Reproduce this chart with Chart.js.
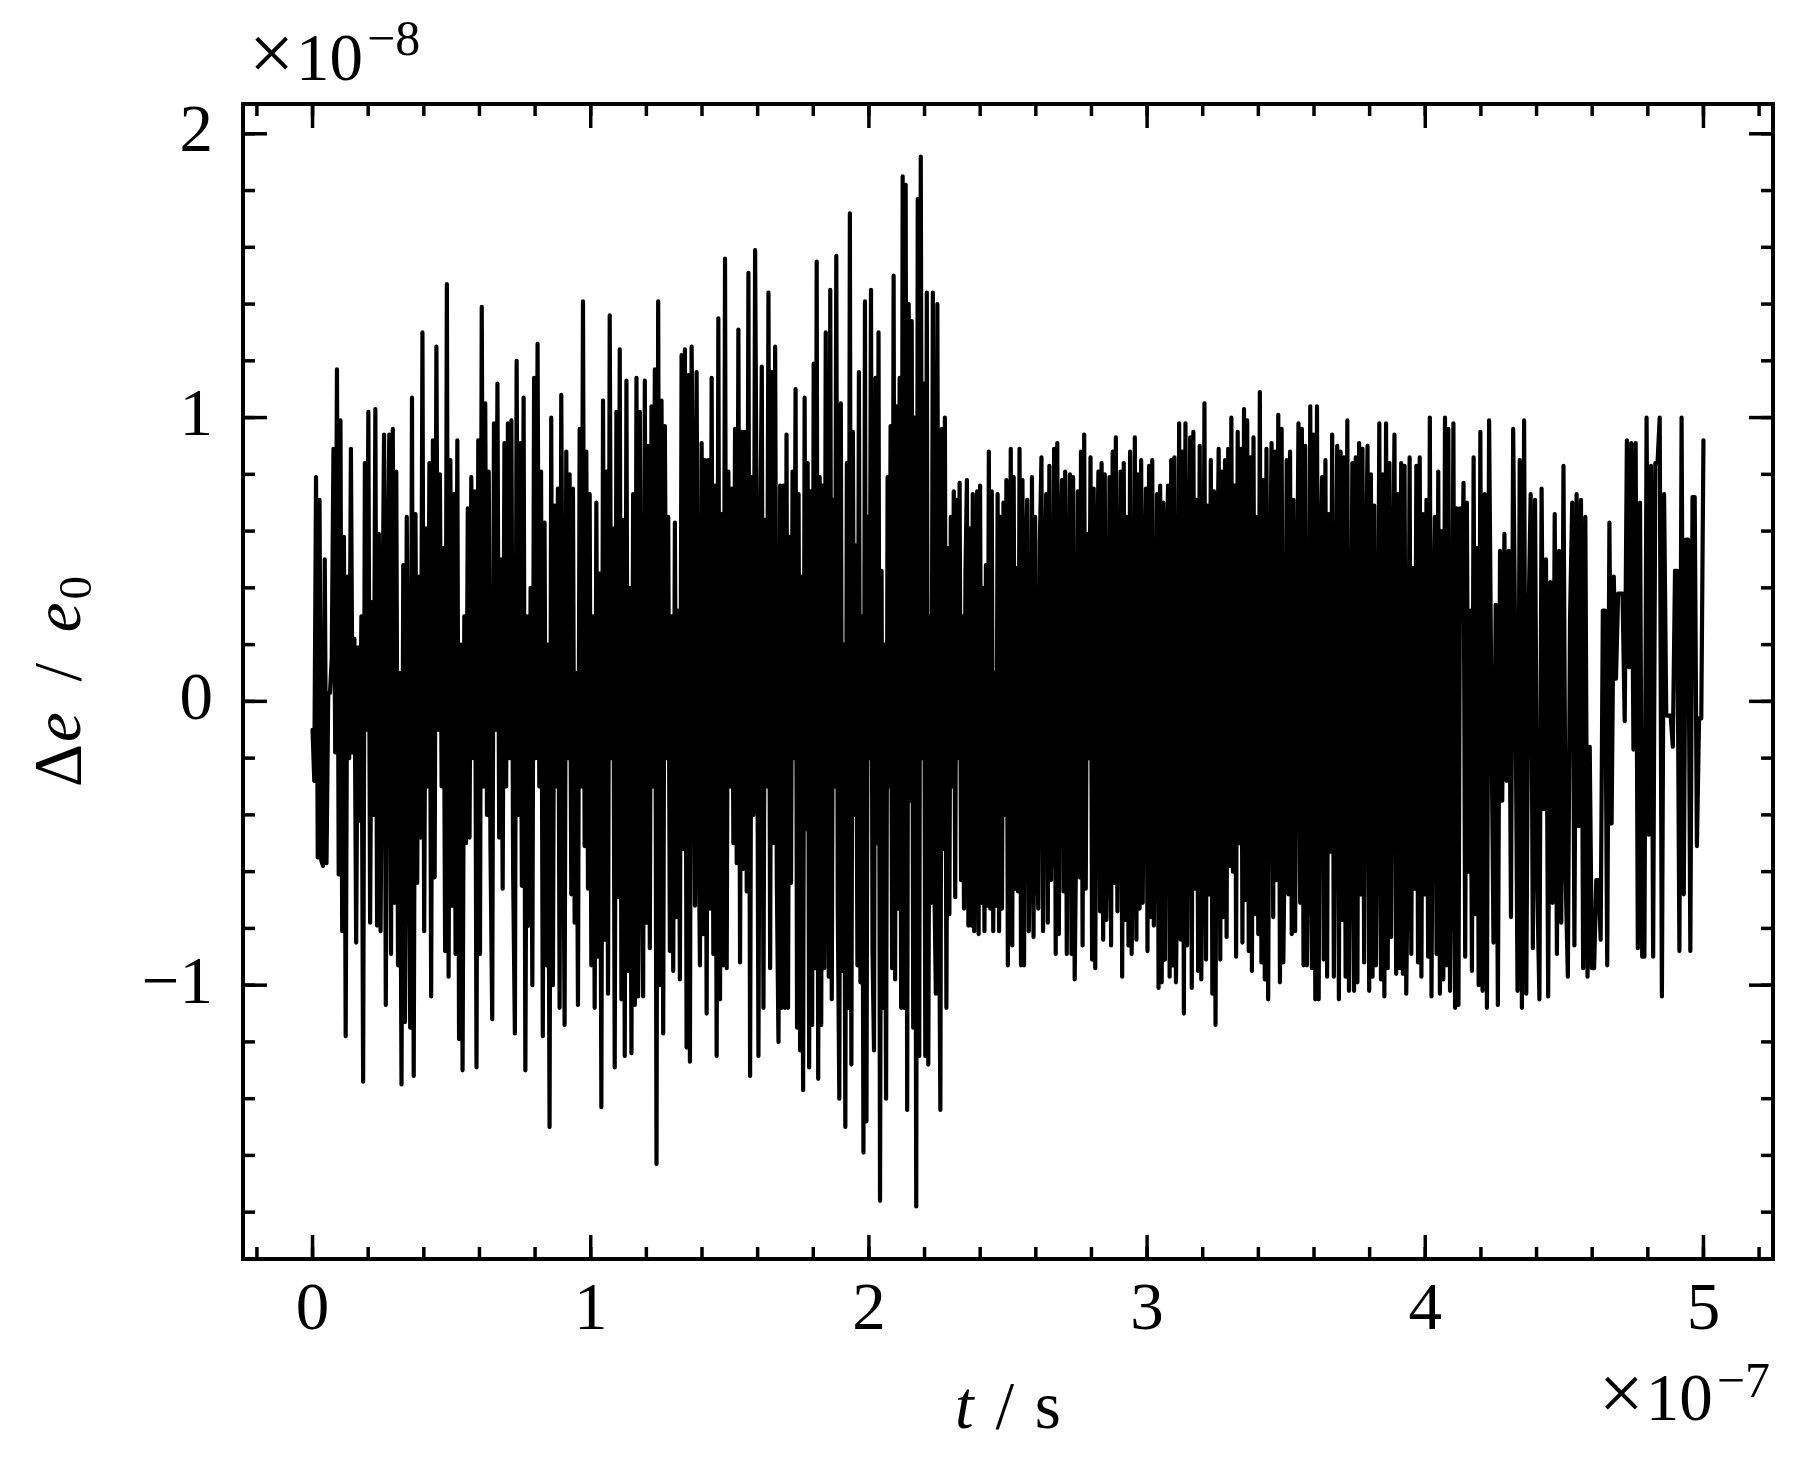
<!DOCTYPE html>
<html>
<head>
<meta charset="utf-8">
<script src="https://cdn.jsdelivr.net/npm/chart.js@4.4.1/dist/chart.umd.min.js"></script>
<style>
  html, body { margin: 0; padding: 0; background: #fff; }
  canvas { display: block; }
</style>
</head>
<body>
<canvas id="myChart" width="1808" height="1477"></canvas>
<script>
// time axis in units of 1e-7 s, energy error in units of 1e-8
const xTicks = [0, 1, 2, 3, 4, 5]
const yTicks = [-1, 0, 1, 2]
const xRange = [-0.25, 5.25]
const yRange = [-1.965, 2.105]
const minorStep = 0.2

// segment boundaries (samples spread evenly inside each one)
const segTimes = [0, 0.834, 1.693, 2.284, 2.552, 3.411, 4.198, 5.0]

const segA = [-0.10, -0.28, 0.79, -0.55, 0.71, -0.56, -0.58, 0.50, -0.57, 0.03, 0.03, 0.15, 0.89, -0.18, 1.17, -0.61, 0.99, -0.81, 0.58, -1.18, 0.44, -0.20, 0.89, -0.18, 0.22, -0.85, 0.19, -0.42, 0.30, -1.34, 0.84, -0.10, 1.02, -0.78, 0.35, -0.40, 1.03, -0.79, 0.59, -0.81, 0.20, 0.94, -1.07, 0.45, 0.94, -0.89, 0.96, -0.71, 0.81, -0.93, 0.10, -1.35, 0.48, -1.13, 0.65, -0.20, -1.15, 1.07, -1.32, 0.66, -0.64, 0.44, -0.48, 1.30, -0.81, 0.61, -0.30, 0.84, -1.04, 0.92, -0.62, 1.25, -0.10, 0.80, -0.30, 0.54, -0.88, 1.47, -0.97, 0.85, -0.72, 0.73, -0.89, 0.92, -1.19, 0.20, -1.30, 0.30, -0.50, 0.68, -0.48, 0.79, -0.20, 0.74, -1.29, 0.92, -0.89, 1.39, -0.30, 1.05, -0.40, 0.81, -0.51, -1.12, 0.98, -0.10, 1.12, -0.48, 0.50, -0.66, 0.91, -0.30, 0.98, -0.20, 0.99, -0.61, -1.17, 1.20, -0.40, 0.91, -0.65, 1.07, -1.30, 0.30, -0.79, 0.40, -1.00, 1.14, -0.20, 1.26, -0.30, 0.81, -1.18]

const segB = [0.63, -0.93, 0.20, -1.50, 1.00, -1.00, 0.69, -0.30, 0.75, -1.08, 1.08, -0.06, -1.14, 0.88, -0.20, 0.80, -0.68, 0.75, -0.78, 0.10, -1.07, 0.96, -0.30, 1.41, -0.51, 0.88, -0.66, 0.73, -0.93, 0.30, -1.08, 0.70, -0.90, 0.45, -1.43, 1.06, -0.84, 0.81, -1.03, 1.36, -0.20, 0.61, -1.29, 1.02, -0.69, 1.24, -1.05, 0.64, -1.25, 1.13, -0.95, 0.40, -1.24, 0.73, -1.07, 1.14, -1.04, 1.02, -0.37, -1.04, 1.13, -0.78, 0.90, -0.87, 1.04, -0.30, 1.17, -1.63, 1.41, -1.00, 1.06, -1.17, 0.97, -0.20, 0.65, -0.88, 0.30, -0.95, 0.63, -0.76, 0.32, -0.98, 1.22, -0.52, 1.24, -1.22, 1.15, -1.27, 1.25, 0.58, -0.72, 1.16, -0.32, -0.93, 0.91, -0.82, 0.85, -1.10, 0.85, -0.73, 1.14, -0.89, 0.76, -1.25, 1.35, -1.05, 0.66, -0.93, 1.56, -0.94, 0.81, -0.30, 0.75, -0.50, 0.96, -0.57, 1.31, -0.92, 0.95, -0.59, 0.95, -0.67, 1.51, -1.32, 0.79, -0.40, 1.59, 0.55, -1.25, 0.49, 1.18, -1.08, 0.64, -0.30, 1.44, -0.94, 1.16, -0.50, 1.25, -0.63, -1.20, 0.76, -1.08]

const segC = [0.76, -1.08, 0.94, -1.08, 0.58, -0.64, 0.81, -0.20, 1.10, -1.15, 0.73, -1.23, 0.44, -1.37, 1.07, -0.45, 0.84, -1.29, 0.74, -1.14, 1.19, -0.94, 1.55, -1.33, 0.79, -1.14, 0.76, -0.94, 1.30, -0.28, -0.97, 1.45, -1.05, 0.71, -0.30, 1.57, -0.74, -1.40, 1.05, -0.95, 0.20, -1.50, 0.84, -1.08, 1.72, -1.28, 0.95, -0.40, 0.55, -0.93, 1.16, -0.99, 0.30, -1.59, 1.41, -1.48, 0.65, -0.20, 1.45, -0.88, -1.23, 1.14, -0.50, 1.30, -1.76, 0.46, -1.08, 0.20, -1.40, 0.79, -0.30, 0.97, -0.94, 1.50, -0.98, 1.04, -0.73, 1.14, -1.08, 1.85, -1.08, 1.82, -1.44, 1.40, -0.35, 1.34, -1.15, 1.00, -1.78, 1.77, -1.25, 1.92, -0.20, 1.12, -1.25, 1.44, -1.28, 0.30, -0.71, 1.44, -0.63, -1.03, 1.40, -0.57, -1.44, 0.96, -0.52, 1.00, -1.08]

const segD = [0.54, -0.75, 0.65, -0.30, 0.74, -0.69, 0.71, -0.20, 0.77, -0.63, 0.30, -0.73, 0.45, 0.78, -0.79, 0.61, -0.79, 0.73, -0.81, 0.20, 0.74, -0.82, 0.76, -0.71, 0.40, -0.81, 0.48, -0.72, 0.88, -0.73, 0.74, -0.81, 0.10, -0.72, 0.73, -0.81, 0.65, -0.73, 0.70, -0.40, 0.78, -0.93, -0.28, 0.89, -0.86, 0.79, -0.66, 0.47, -0.67, 0.89, -0.93]

const segE = [0.78, -0.93, 0.45, 0.71, -0.81, -0.40, 0.79, -0.83, 0.65, -0.50, -0.73, 0.56, 0.86, -0.81, 0.30, 0.73, -0.78, 0.83, -0.63, -0.30, 0.89, -0.89, 0.91, -0.82, 0.50, 0.78, -0.67, 0.81, -0.89, 0.20, 0.80, -0.89, 0.79, -0.98, -0.45, 0.74, -0.62, 0.88, -0.86, 0.94, -0.66, 0.59, -0.20, 0.86, -0.91, 0.75, -0.94, 0.40, 0.81, -0.74, 0.84, -0.84, 0.80, -0.77, -0.35, 0.79, -0.86, 0.88, -0.64, 0.93, -0.74, 0.10, 0.81, -0.97, 0.84, -0.77, 0.65, -0.86, 0.88, -0.89, -0.40, 0.93, -0.84, 0.80, -0.73, 0.85, -0.71, 0.30, 0.75, -0.88, 0.83, -0.76, 0.85, -0.79, -0.20, 0.73, -1.01, 0.76, -0.99, 0.70, -0.91, 0.45, 0.76, -0.97, 0.85, -0.93, 0.86, -0.99, -0.50, 0.98, -0.84, 0.88, -1.10, 0.98, -0.86, 0.20, 0.93, -1.01, 0.95, -0.66, 0.71, -0.95, 0.90, -0.98, -0.30, 1.05, -0.91, 0.69, -0.68, 0.85, -1.03, 0.74, -1.14, 0.40, 0.89, -0.91, 0.81, -0.76, 0.85, -0.83, 0.89, -0.58, 1.00, -0.60, 0.76, -0.90, 0.95, -0.50, 0.89, -0.85, 1.03, -0.70, 0.99, -0.88, 0.86, -0.95, 0.93, -0.75, 0.65, -0.82, 1.09]

const segF = [-0.92, 0.78, -0.98, 0.89, -1.05, 0.30, 0.91, -0.76, 0.88, -0.63, 1.01, -0.99, 0.96, -0.92, -0.40, 0.85, -0.68, 0.88, -0.82, 0.71, -0.81, 0.20, 0.98, -0.71, 0.96, -0.93, 0.90, -0.93, -0.45, 1.04, -0.94, 0.94, -1.05, 1.04, -1.05, 0.50, 0.79, -0.91, 0.85, -0.97, 0.66, -0.53, 0.94, -0.97, 0.10, 0.90, -1.05, 0.88, -0.77, 0.86, -0.97, 0.99, -1.02, -0.30, 0.84, -1.02, 0.86, -0.99, 0.91, -0.68, 0.89, -0.92, 0.40, 0.90, -1.02, 0.80, -0.97, 0.69, -0.93, -0.20, 0.98, -0.98, 0.80, -1.04, 0.98, -0.94, 0.84, -0.83, 0.30, 0.94, -0.96, 0.73, -0.94, 0.84, -0.96, 0.83, -1.03, -0.50, 0.86, -0.89, 0.47, -0.66, 0.83, -0.92, 0.86, -0.97, 0.66, -0.68, 0.71, -0.90, 1.00, -1.04, 0.20, 0.65, -0.89, 0.81, -1.03, 0.60, -0.98, 1.00, -0.93, 0.96, -1.02, -0.40, 0.98, -1.08, 0.68, -1.07, 0.68, 0.30, 0.77, -0.90, 0.70, -0.60, 0.32, -0.95, 0.86, -0.75, 0.54, -1.00]

const segG = [0.95, -1.02, 0.73, -1.08, 0.99, 0.02, -0.85, 0.34, -1.07, 0.53, -0.35, 0.59, -0.28, 0.53, -0.76, 0.96, 0.14, -1.02, 0.85, -1.08, 0.99, -1.03, 0.27, 0.73, -0.87, 0.71, -0.64, -1.05, 0.75, -0.38, 0.50, -1.04, 0.42, -0.71, 0.66, -0.89, 0.53, -0.78, 0.83, -0.62, -0.97, 0.29, 0.70, -0.86, 0.73, -0.44, 0.71, -0.94, 0.65, -0.97, -0.16, -0.94, -0.94, -0.63, -0.63, -0.84, 0.32, 0.32, -0.93, 0.63, -0.43, 0.44, 0.08, 0.38, 0.38, 0.38, -0.07, 0.92, 0.12, 0.91, -0.17, 0.91, -0.87, 0.70, -0.90, -0.90, 1.00, -0.47, 0.83, -0.90, 0.84, 0.84, 1.00, -1.04, 0.73, -0.05, -0.05, -0.05, -0.16, 0.46, 0.46, -0.88, 1.00, -0.68, 0.57, 0.57, -0.88, 0.72, 0.72, -0.51, -0.06, -0.06, 0.92]

const segments = [segA, segB, segC, segD, segE, segF, segG]

const SERIF = '"Liberation Serif", "Times New Roman", serif'
const FONT = 67
const SUP = 50

function buildPoints(){
    let pts = []
    segments.forEach((vals, k) => {
        let t0 = segTimes[k]
        let t1 = segTimes[k + 1]
        let last = k == segments.length - 1
        let n = last ? vals.length - 1 : vals.length
        vals.forEach((v, i) => {
            pts.push({x: t0 + (t1 - t0) * i / n, y: v})
        })
    })
    return pts
}

function fmtTick(value){
    return value < 0 ? '\u2212' + Math.abs(value) : String(value)
}

// text pieces with mixed fonts, drawn left to right
function richWidth(ctx, parts){
    let w = 0
    parts.forEach((p) => {
        ctx.font = p.font
        w += ctx.measureText(p.text).width + (p.gap || 0)
    })
    return w
}

function drawRich(ctx, parts, x, y){
    parts.forEach((p) => {
        ctx.font = p.font
        x += (p.gap || 0)
        ctx.fillText(p.text, x, y + (p.dy || 0))
        x += ctx.measureText(p.text).width
    })
}

const normal = FONT + 'px ' + SERIF
const italic = 'italic ' + FONT + 'px ' + SERIF
const small = SUP + 'px ' + SERIF
const sub = '47px ' + SERIF
const times = '80px ' + SERIF

const frameTicks = {
    id: 'frameTicks',
    afterDraw(chart){
        const ctx = chart.ctx
        const a = chart.chartArea
        const xs = chart.scales.x
        const ys = chart.scales.y

        ctx.save()
        ctx.strokeStyle = '#000'
        ctx.lineCap = 'butt'

        function seg(x1, y1, x2, y2){
            ctx.beginPath()
            ctx.moveTo(x1, y1)
            ctx.lineTo(x2, y2)
            ctx.stroke()
        }

        ctx.lineWidth = 3.5
        // minor ticks
        for (let v = Math.ceil(xRange[0] / minorStep) * minorStep; v <= xRange[1] + 1e-9; v += minorStep){
            let p = xs.getPixelForValue(v)
            seg(p, a.bottom, p, a.bottom - 12)
            seg(p, a.top, p, a.top + 12)
        }
        for (let v = Math.ceil(yRange[0] / minorStep) * minorStep; v <= yRange[1] + 1e-9; v += minorStep){
            let p = ys.getPixelForValue(v)
            seg(a.left, p, a.left + 12, p)
            seg(a.right, p, a.right - 12, p)
        }
        // major ticks
        xTicks.forEach((v) => {
            let p = xs.getPixelForValue(v)
            seg(p, a.bottom, p, a.bottom - 24)
            seg(p, a.top, p, a.top + 24)
        })
        yTicks.forEach((v) => {
            let p = ys.getPixelForValue(v)
            seg(a.left, p, a.left + 24, p)
            seg(a.right, p, a.right - 24, p)
        })

        ctx.lineWidth = 4
        ctx.strokeRect(a.left, a.top, a.right - a.left, a.bottom - a.top)

        ctx.fillStyle = '#000'
        ctx.textBaseline = 'alphabetic'
        ctx.textAlign = 'left'

        // offset text on y axis
        drawRich(ctx, [
            {text: '\u00d7', font: times},
            {text: '10', font: normal, gap: 2},
            {text: '\u22128', font: small, dy: -25, gap: 4}
        ], a.left + 6, a.top - 24)

        // offset text on x axis
        let offX = [
            {text: '\u00d7', font: times},
            {text: '10', font: normal, gap: 2},
            {text: '\u22127', font: small, dy: -23, gap: 4}
        ]
        drawRich(ctx, offX, a.right - 3 - richWidth(ctx, offX), a.bottom + 161)

        // x label
        let xl = [
            {text: 't', font: italic},
            {text: ' / ', font: normal, gap: 5},
            {text: 's', font: normal, gap: 4}
        ]
        drawRich(ctx, xl, (a.left + a.right) / 2 - richWidth(ctx, xl) / 2, a.bottom + 169)

        // y label
        let yl = [
            {text: '\u0394', font: normal},
            {text: 'e', font: italic, gap: 2},
            {text: ' / ', font: normal, gap: 14},
            {text: 'e', font: italic, gap: 14},
            {text: '0', font: sub, dy: 11, gap: 3}
        ]
        ctx.translate(80, (a.top + a.bottom) / 2)
        ctx.rotate(-Math.PI / 2)
        drawRich(ctx, yl, -richWidth(ctx, yl) / 2, 0)

        ctx.restore()
    }
}

let config = {
    type: 'line',
    data: {
        datasets: [{
            label: 'energy error',
            data: buildPoints(),
            borderColor: '#000000',
            borderWidth: 4.2,
            borderJoinStyle: 'round',
            borderCapStyle: 'round',
            pointRadius: 0,
            tension: 0,
            fill: false,
        }]
    },
    options: {
        responsive: false,
        animation: false,
        devicePixelRatio: 1,
        parsing: false,
        normalized: true,
        layout: {
            padding: {top: 104, right: 35, left: 0, bottom: 0}
        },
        plugins: {
            legend: {display: false},
            tooltip: {enabled: false}
        },
        scales: {
            x: {
                type: 'linear',
                min: xRange[0],
                max: xRange[1],
                afterBuildTicks: (s) => { s.ticks = xTicks.map((v) => ({value: v})) },
                afterFit: (s) => { s.height = 218 },
                grid: {display: false, drawTicks: false},
                border: {display: false},
                ticks: {
                    color: '#000',
                    font: {family: SERIF, size: FONT},
                    padding: 12,
                    maxRotation: 0,
                    autoSkip: false,
                    callback: fmtTick
                }
            },
            y: {
                type: 'linear',
                min: yRange[0],
                max: yRange[1],
                afterBuildTicks: (s) => { s.ticks = yTicks.map((v) => ({value: v})) },
                afterFit: (s) => { s.width = 243 },
                grid: {display: false, drawTicks: false},
                border: {display: false},
                ticks: {
                    color: '#000',
                    font: {family: SERIF, size: FONT},
                    padding: 30,
                    autoSkip: false,
                    callback: fmtTick
                }
            }
        }
    },
    plugins: [frameTicks]
}

let mychart = new Chart(document.getElementById('myChart'), config)
</script>
</body>
</html>
